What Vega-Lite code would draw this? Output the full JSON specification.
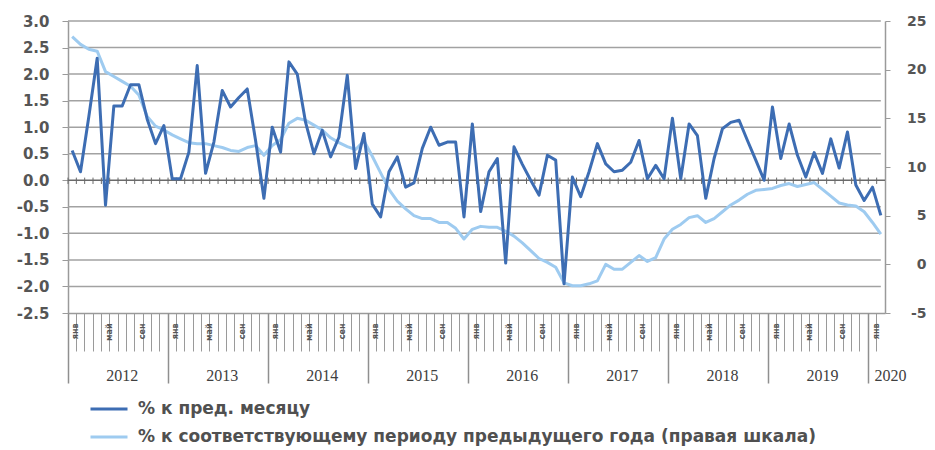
{
  "$schema": "https://vega.github.io/schema/vega-lite/v6.json",
  "width": 817,
  "height": 292,
  "autosize": {"type": "none"},
  "padding": {"left": 68, "top": 21, "right": 50, "bottom": 137},
  "background": "white",
  "config": {"view": {"stroke": null}, "font": "DejaVu Sans"},
  "datasets": {
    "series": [
    {"m": "2012-01", "mom": 0.56, "yoy": 23.4}, {"m": "2012-02", "mom": 0.16, "yoy": 22.6}, {"m": "2012-03", "mom": 1.2, "yoy": 22.1}, {"m": "2012-04", "mom": 2.3, "yoy": 21.9}, {"m": "2012-05", "mom": -0.47, "yoy": 19.8}, {"m": "2012-06", "mom": 1.4, "yoy": 19.3}, {"m": "2012-07", "mom": 1.4, "yoy": 18.8}, {"m": "2012-08", "mom": 1.8, "yoy": 18.3}, {"m": "2012-09", "mom": 1.8, "yoy": 17.4}, {"m": "2012-10", "mom": 1.15, "yoy": 15.2}, {"m": "2012-11", "mom": 0.69, "yoy": 14.2}, {"m": "2012-12", "mom": 1.03, "yoy": 13.8},
    {"m": "2013-01", "mom": 0.03, "yoy": 13.3}, {"m": "2013-02", "mom": 0.03, "yoy": 12.9}, {"m": "2013-03", "mom": 0.53, "yoy": 12.5}, {"m": "2013-04", "mom": 2.16, "yoy": 12.4}, {"m": "2013-05", "mom": 0.13, "yoy": 12.4}, {"m": "2013-06", "mom": 0.72, "yoy": 12.2}, {"m": "2013-07", "mom": 1.69, "yoy": 12.0}, {"m": "2013-08", "mom": 1.38, "yoy": 11.7}, {"m": "2013-09", "mom": 1.56, "yoy": 11.6}, {"m": "2013-10", "mom": 1.72, "yoy": 12.0}, {"m": "2013-11", "mom": 0.75, "yoy": 12.2}, {"m": "2013-12", "mom": -0.34, "yoy": 11.2},
    {"m": "2014-01", "mom": 1.0, "yoy": 12.2}, {"m": "2014-02", "mom": 0.53, "yoy": 12.8}, {"m": "2014-03", "mom": 2.23, "yoy": 14.5}, {"m": "2014-04", "mom": 2.0, "yoy": 15.0}, {"m": "2014-05", "mom": 1.09, "yoy": 14.8}, {"m": "2014-06", "mom": 0.5, "yoy": 14.3}, {"m": "2014-07", "mom": 0.94, "yoy": 13.8}, {"m": "2014-08", "mom": 0.44, "yoy": 13.0}, {"m": "2014-09", "mom": 0.81, "yoy": 12.5}, {"m": "2014-10", "mom": 1.98, "yoy": 12.1}, {"m": "2014-11", "mom": 0.22, "yoy": 11.8}, {"m": "2014-12", "mom": 0.88, "yoy": 12.7},
    {"m": "2015-01", "mom": -0.45, "yoy": 11.1}, {"m": "2015-02", "mom": -0.69, "yoy": 9.4}, {"m": "2015-03", "mom": 0.16, "yoy": 7.7}, {"m": "2015-04", "mom": 0.44, "yoy": 6.5}, {"m": "2015-05", "mom": -0.13, "yoy": 5.7}, {"m": "2015-06", "mom": -0.05, "yoy": 5.0}, {"m": "2015-07", "mom": 0.6, "yoy": 4.7}, {"m": "2015-08", "mom": 1.0, "yoy": 4.7}, {"m": "2015-09", "mom": 0.66, "yoy": 4.3}, {"m": "2015-10", "mom": 0.72, "yoy": 4.3}, {"m": "2015-11", "mom": 0.72, "yoy": 3.7}, {"m": "2015-12", "mom": -0.69, "yoy": 2.6},
    {"m": "2016-01", "mom": 1.06, "yoy": 3.6}, {"m": "2016-02", "mom": -0.59, "yoy": 3.9}, {"m": "2016-03", "mom": 0.16, "yoy": 3.8}, {"m": "2016-04", "mom": 0.41, "yoy": 3.8}, {"m": "2016-05", "mom": -1.56, "yoy": 3.4}, {"m": "2016-06", "mom": 0.63, "yoy": 2.9}, {"m": "2016-07", "mom": 0.3, "yoy": 2.2}, {"m": "2016-08", "mom": 0.0, "yoy": 1.4}, {"m": "2016-09", "mom": -0.28, "yoy": 0.6}, {"m": "2016-10", "mom": 0.47, "yoy": 0.2}, {"m": "2016-11", "mom": 0.38, "yoy": -0.3}, {"m": "2016-12", "mom": -1.95, "yoy": -1.9},
    {"m": "2017-01", "mom": 0.06, "yoy": -2.2}, {"m": "2017-02", "mom": -0.31, "yoy": -2.2}, {"m": "2017-03", "mom": 0.16, "yoy": -2.0}, {"m": "2017-04", "mom": 0.69, "yoy": -1.7}, {"m": "2017-05", "mom": 0.31, "yoy": 0.0}, {"m": "2017-06", "mom": 0.16, "yoy": -0.5}, {"m": "2017-07", "mom": 0.19, "yoy": -0.5}, {"m": "2017-08", "mom": 0.34, "yoy": 0.2}, {"m": "2017-09", "mom": 0.75, "yoy": 0.9}, {"m": "2017-10", "mom": 0.03, "yoy": 0.3}, {"m": "2017-11", "mom": 0.28, "yoy": 0.7}, {"m": "2017-12", "mom": 0.03, "yoy": 2.6},
    {"m": "2018-01", "mom": 1.17, "yoy": 3.6}, {"m": "2018-02", "mom": 0.03, "yoy": 4.1}, {"m": "2018-03", "mom": 1.06, "yoy": 4.8}, {"m": "2018-04", "mom": 0.84, "yoy": 5.0}, {"m": "2018-05", "mom": -0.34, "yoy": 4.3}, {"m": "2018-06", "mom": 0.41, "yoy": 4.7}, {"m": "2018-07", "mom": 0.97, "yoy": 5.4}, {"m": "2018-08", "mom": 1.09, "yoy": 6.1}, {"m": "2018-09", "mom": 1.13, "yoy": 6.6}, {"m": "2018-10", "mom": 0.75, "yoy": 7.2}, {"m": "2018-11", "mom": 0.38, "yoy": 7.6}, {"m": "2018-12", "mom": 0.0, "yoy": 7.7},
    {"m": "2019-01", "mom": 1.38, "yoy": 7.8}, {"m": "2019-02", "mom": 0.41, "yoy": 8.1}, {"m": "2019-03", "mom": 1.06, "yoy": 8.3}, {"m": "2019-04", "mom": 0.47, "yoy": 8.0}, {"m": "2019-05", "mom": 0.06, "yoy": 8.2}, {"m": "2019-06", "mom": 0.52, "yoy": 8.4}, {"m": "2019-07", "mom": 0.13, "yoy": 7.7}, {"m": "2019-08", "mom": 0.78, "yoy": 7.0}, {"m": "2019-09", "mom": 0.23, "yoy": 6.3}, {"m": "2019-10", "mom": 0.91, "yoy": 6.1}, {"m": "2019-11", "mom": -0.09, "yoy": 6.0}, {"m": "2019-12", "mom": -0.38, "yoy": 5.4},
    {"m": "2020-01", "mom": -0.13, "yoy": 4.3}, {"m": "2020-02", "mom": -0.66, "yoy": 3.1}
  ]},
  "data": {"name": "series"},
  "layer": [
    {
      "data": {"values": [{"z": 0}]},
      "mark": {"type": "rule", "stroke": "#6a6a6a", "strokeWidth": 1.5},
      "encoding": {
        "y": {
          "field": "z", "type": "quantitative", "title": null,
          "scale": {"domain": [-2.5, 3.0], "nice": false, "zero": false},
          "axis": {
            "orient": "left", "title": null, "grid": false,
            "values": [-2.5, -2.0, -1.5, -1.0, -0.5, 0.0, 0.5, 1.0, 1.5, 2.0, 2.5, 3.0],
            "labelExpr": "replace(format(datum.value, '.1f'), '\u2212', '-')",
            "domainColor": "#9a9a9a", "domainWidth": 1.5, "tickColor": "#9a9a9a", "tickSize": 6,
            "labelFontSize": 15, "labelFontWeight": "bold", "labelColor": "#555555", "labelPadding": 13,
            "labelOverlap": false
          }
        }
      }
    },
    {
      "layer": [
        {
          "data": {"values": [{"g": -2.0}, {"g": -1.5}, {"g": -1.0}, {"g": -0.5}, {"g": 0.5}, {"g": 1.0}, {"g": 1.5}, {"g": 2.0}, {"g": 2.5}, {"g": 3.0}]},
          "mark": {"type": "rule", "stroke": "#a2a2a2", "strokeWidth": 1.5},
          "encoding": {
            "x": {
              "datum": "2012-01", "type": "ordinal", "bandPosition": 0,
              "scale": {"type": "band", "paddingInner": 0, "paddingOuter": 0},
              "axis": {
                "orient": "bottom", "title": null, "bandPosition": 0,
                "domain": true, "domainColor": "#9a9a9a", "domainWidth": 1.5,
                "ticks": true, "tickSize": 38, "tickColor": "#9a9a9a", "tickWidth": 1,
                "labelAngle": -90, "labelFontSize": 8, "labelFontWeight": "bold", "labelColor": "#555555",
                "labelPadding": -28, "labelOffset": 4.2,
                "labelExpr": "slice(datum.value, 5) == '01' ? 'янв' : slice(datum.value, 5) == '05' ? 'май' : slice(datum.value, 5) == '09' ? 'сен' : ''",
                "labelOverlap": false, "labelBound": false, "labelFlush": false, "grid": false
              }
            },
            "x2": {"datum": "2020-02"},
            "y": {
              "field": "g", "type": "quantitative", "title": null,
              "scale": {"domain": [-2.5, 3.0], "nice": false, "zero": false},
              "axis": null
            }
          }
        },
        {
          "mark": {"type": "rule", "color": "#6a6a6a", "strokeWidth": 1},
          "encoding": {
            "x": {
              "field": "m", "type": "ordinal", "bandPosition": 0,
              "scale": {"type": "band", "paddingInner": 0, "paddingOuter": 0},
              "axis": {
                "orient": "bottom", "title": null, "bandPosition": 0,
                "domain": true, "domainColor": "#9a9a9a", "domainWidth": 1.5,
                "ticks": true, "tickSize": 38, "tickColor": "#9a9a9a", "tickWidth": 1,
                "labelAngle": -90, "labelFontSize": 8, "labelFontWeight": "bold", "labelColor": "#555555",
                "labelPadding": -28, "labelOffset": 4.2,
                "labelExpr": "slice(datum.value, 5) == '01' ? 'янв' : slice(datum.value, 5) == '05' ? 'май' : slice(datum.value, 5) == '09' ? 'сен' : ''",
                "labelOverlap": false, "labelBound": false, "labelFlush": false, "grid": false
              }
            },
            "y": {"datum": -0.07, "type": "quantitative", "title": null, "axis": null},
            "y2": {"datum": 0.05}
          }
        }
      ]
    },
    {
      "mark": {"type": "line", "strokeWidth": 3, "strokeJoin": "round"},
      "encoding": {
        "x": {
          "field": "m", "type": "ordinal",
          "scale": {"type": "band", "paddingInner": 0, "paddingOuter": 0},
          "axis": {
            "orient": "bottom", "title": null, "bandPosition": 0,
            "values": ["2012-01", "2013-01", "2014-01", "2015-01", "2016-01", "2017-01", "2018-01", "2019-01", "2020-01"],
            "domain": false, "ticks": true, "tickSize": 70, "tickColor": "#8f8f8f", "tickWidth": 1.5,
            "labelExpr": "slice(datum.value, 0, 4)",
            "labelAngle": 0, "labelAlign": "center", "labelBaseline": "top",
            "labelOffset": {"condition": {"test": "datum.value == '2020-01'", "value": 18}, "value": 50},
            "labelPadding": -16, "labelFont": "Liberation Serif", "labelFontSize": 16, "labelColor": "#404040",
            "labelOverlap": false, "labelBound": false, "labelFlush": false, "grid": false
          }
        },
        "y": {
          "field": "yoy", "type": "quantitative", "title": null,
          "scale": {"domain": [-5, 25], "nice": false, "zero": false},
          "axis": {
            "orient": "right", "title": null, "values": [-5, 0, 5, 10, 15, 20, 25], "grid": false,
            "labelExpr": "replace(format(datum.value, 'd'), '\u2212', '-')",
            "domainColor": "#9a9a9a", "domainWidth": 1.5, "tickColor": "#9a9a9a", "tickSize": 5,
            "labelFontSize": 14, "labelFontWeight": "bold", "labelColor": "#555555",
            "labelAlign": "right", "labelPadding": 36, "labelOverlap": false
          }
        },
        "color": {
          "datum": "% к соответствующему периоду предыдущего года (правая шкала)", "type": "nominal",
          "scale": {
            "domain": ["% к пред. месяцу", "% к соответствующему периоду предыдущего года (правая шкала)"],
            "range": ["#3d6db3", "#9ecbf0"]
          },
          "legend": {
            "orient": "none", "legendX": 21, "legendY": 368, "direction": "vertical", "title": null,
            "symbolType": "stroke", "symbolStrokeWidth": 3, "symbolSize": 1369,
            "labelFontSize": 17, "labelFontWeight": "bold", "labelColor": "#505050",
            "labelLimit": 0, "labelOffset": 9, "rowPadding": 0
          }
        }
      }
    },
    {
      "mark": {"type": "line", "strokeWidth": 3, "strokeJoin": "round"},
      "encoding": {
        "x": {
          "field": "m", "type": "ordinal",
          "scale": {"type": "band", "paddingInner": 0, "paddingOuter": 0},
          "axis": null
        },
        "y": {
          "field": "mom", "type": "quantitative", "title": null,
          "scale": {"domain": [-2.5, 3.0], "nice": false, "zero": false},
          "axis": null
        },
        "color": {"datum": "% к пред. месяцу", "type": "nominal"}
      }
    }
  ],
  "resolve": {"scale": {"x": "independent", "y": "independent"}}
}
